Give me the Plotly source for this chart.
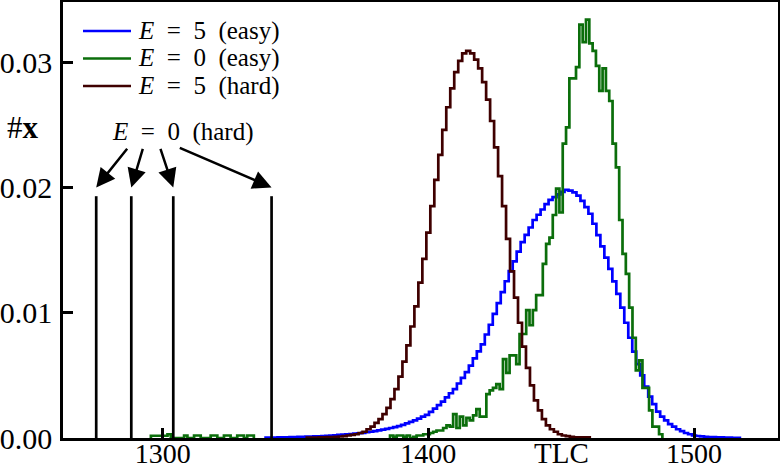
import numpy as np
import plotly.graph_objects as go

# ---- data ----
bin_w_fine = 1.5
blue_start = 1338.75
blue_values = [
    0.00003, 0.00004, 0.00004, 0.00005, 0.00006, 0.00006, 0.00007, 0.00008, 0.00009, 0.0001,
    0.00011, 0.00012, 0.00013, 0.00014, 0.00016, 0.00018, 0.0002, 0.00022, 0.00025, 0.00027,
    0.0003, 0.00032, 0.00035, 0.00038, 0.00041, 0.00046, 0.0005, 0.00055, 0.00061, 0.00067,
    0.00073, 0.0008, 0.00087, 0.00095, 0.00104, 0.00116, 0.00128, 0.0014, 0.00155, 0.0017,
    0.00185, 0.00208, 0.00235, 0.00262, 0.00291, 0.00324, 0.00357, 0.0039, 0.00435, 0.0048,
    0.00525, 0.00578, 0.00635, 0.00692, 0.00748, 0.00826, 0.00904, 0.0099, 0.01077, 0.01164,
    0.01251, 0.01332, 0.0141, 0.01488, 0.01564, 0.01622, 0.0168, 0.0174, 0.01782, 0.01824,
    0.01866, 0.0190, 0.01922, 0.01945, 0.01965, 0.0198, 0.01975, 0.0196, 0.01935, 0.01893,
    0.01843, 0.0179, 0.0171, 0.0162, 0.0153, 0.0144, 0.0135, 0.0125, 0.0115, 0.0104,
    0.0092, 0.0080, 0.0069, 0.0059, 0.0050, 0.0041, 0.0033, 0.0027, 0.0021, 0.0017,
    0.0014, 0.0011, 0.0009, 0.0007, 0.00055, 0.0004, 0.0003, 0.0002, 0.00016, 0.00013,
    0.0001, 0.00008, 0.00007, 0.00006, 0.00005, 0.00004, 0.00003, 0.00002, 0.00002,
]

darkred_start = 1354.25
darkred_values = [
    0.00003, 0.00003, 0.00004, 0.00005, 0.00006, 0.00007, 0.00008, 0.0001, 0.00012, 0.00015,
    0.0002, 0.00025, 0.0003, 0.0004, 0.0005, 0.0007, 0.0009, 0.0012, 0.0015, 0.0019,
    0.0024, 0.0031, 0.0039, 0.0049, 0.0061, 0.0074, 0.0089, 0.0105, 0.0124, 0.0143,
    0.0164, 0.0185, 0.0206, 0.0226, 0.0246, 0.0264, 0.0279, 0.0292, 0.0301, 0.0307,
    0.0309,
    0.0307, 0.0302, 0.0295, 0.0284, 0.0270, 0.0253, 0.0232, 0.0209, 0.0185, 0.0159,
    0.0133, 0.0112, 0.0092, 0.0073, 0.0056, 0.0042, 0.0030, 0.0022, 0.0015, 0.0010,
    0.0007, 0.0005, 0.0003, 0.0002, 0.00015, 0.0001, 0.00005, 0.00005, 0.00005, 0.00005,
]

bin_w_green = 1.25
green_low_start = 1295.58
green_low_values = [
    0.00018, 0.00018, 0.00018, 0.00018, 0.00018, 0.0003, 0.0, 0.0, 0.0, 0.0,
    0.0002, 0.0, 0.0, 0.0002, 0.0002, 0.0, 0.0, 0.0, 0.0002, 0.0002,
    0.0, 0.0, 0.0002, 0.0002, 0.0, 0.0, 0.0002, 0.0002, 0.0, 0.0002, 0.0002,
]
green_start = 1385.58
green_values = [
    0.0002, 0.0001, 0.0002,
    0.0002, 0.0001, 0.0002, 0.0, 0.0001, 0.0002, 0.0002, 0.0003, 0.0003, 0.0004,
    0.0005, 0.0006, 0.0006, 0.0008, 0.0010, 0.0009, 0.0019, 0.0008, 0.0017, 0.0010,
    0.0016, 0.0014, 0.0018, 0.0023, 0.0017, 0.0017, 0.0035, 0.0038, 0.0040, 0.0043,
    0.0039, 0.0063, 0.0052, 0.0066, 0.0066, 0.0059, 0.0083, 0.0083, 0.0102, 0.0090,
    0.0102, 0.0114, 0.0114, 0.0139, 0.0155, 0.0160, 0.0178, 0.0199, 0.0180, 0.0235,
    0.0248, 0.0287, 0.0287, 0.0296, 0.0330, 0.0316, 0.0334, 0.0315, 0.0309, 0.0297,
    0.0277, 0.0295, 0.0277, 0.0269, 0.0235, 0.0216, 0.0174, 0.0147, 0.0131, 0.0104,
    0.0080, 0.0054, 0.0062, 0.0040, 0.0040, 0.0022, 0.0009, 0.0009, 0.0003,
]

hard_x = [1275.0, 1288.2, 1304.0, 1341.0]
hard_y = [0.0193, 0.0193, 0.0193, 0.0193]

arrow_tail_x = [1287.1, 1292.7, 1299.0, 1305.9]
arrow_tail_y = 0.0232
arrow_head_y = 0.0200

x_ticks = [1300, 1400, 1500]
y_ticks = [0.0, 0.01, 0.02, 0.03]

SP = "\u2002"
labels = [f"<i>E</i>{SP}={SP}5{SP}(easy)", f"<i>E</i>{SP}={SP}0{SP}(easy)",
          f"<i>E</i>{SP}={SP}5{SP}(hard)", f"<i>E</i>{SP}={SP}0{SP}(hard)"]
colors = ["#0000ff", "#0b6e0b", "#3f0000", "#000000"]

SERIF = "Liberation Serif"

# plot-area geometry (pixels) used for paper-coordinate placement of the legend
W, H = 780, 471
ML, MR, MT, MB = 63, 2, 2, 33
PW, PH = W - ML - MR, H - MT - MB


def px_x(px):
    return (px - ML) / PW


def px_y(py):
    return (H - MB - py) / PH


def step_xy(start, width, values):
    n = len(values)
    edges = start + width * np.arange(n + 1)
    xs = [edges[0]] + list(edges[:n]) + [edges[n]]
    ys = [0.0] + list(values) + [0.0]
    return xs, ys


fig = go.Figure()

for (start, w, vals, lab, col) in [
    (blue_start, bin_w_fine, blue_values, labels[0], colors[0]),
    (green_low_start, bin_w_green, green_low_values, labels[1], colors[1]),
    (green_start, bin_w_green, green_values, labels[1], colors[1]),
    (darkred_start, bin_w_fine, darkred_values, labels[2], colors[2]),
]:
    xs, ys = step_xy(start, w, vals)
    fig.add_trace(go.Scatter(
        x=xs, y=ys, mode="lines", name=lab, showlegend=False,
        line=dict(color=col, width=2.7, shape="hv"), hoverinfo="skip",
    ))

# E = 0 (hard) spikes
sx, sy = [], []
for xv, yv in zip(hard_x, hard_y):
    sx += [xv, xv, None]
    sy += [0.0, yv, None]
fig.add_trace(go.Scatter(x=sx, y=sy, mode="lines", name=labels[3], showlegend=False,
                         line=dict(color=colors[3], width=2.7), hoverinfo="skip"))

annotations = [
    dict(x=1307.3, y=0.02444, xref="x", yref="y", text=labels[3], showarrow=False,
         font=dict(family=SERIF, size=25, color="black")),
    dict(x=1450.3, y=0, xref="x", yref="paper", text="TLC", showarrow=False,
         yanchor="top", yshift=3, font=dict(family=SERIF, size=29, color="black")),
    dict(x=px_x(5), y=0.0248, xref="paper", yref="y", text="#<b>x</b>", showarrow=False,
         xanchor="left", font=dict(family=SERIF, size=31, color="black")),
]
for tx, hx in zip(arrow_tail_x, hard_x):
    annotations.append(dict(
        x=hx, y=arrow_head_y, ax=tx, ay=arrow_tail_y, xref="x", yref="y",
        axref="x", ayref="y", text="", showarrow=True, arrowhead=2,
        arrowsize=1.5, arrowwidth=2.5, arrowcolor="black", standoff=0, startstandoff=0,
    ))

# legend drawn as line samples + text
shapes = []
legend_rows = [31, 58.5, 86]
for i, row in enumerate(legend_rows):
    shapes.append(dict(type="line", xref="paper", yref="paper",
                       x0=px_x(83), x1=px_x(131), y0=px_y(row), y1=px_y(row),
                       line=dict(color=colors[i], width=2.7)))
    annotations.append(dict(x=px_x(136), y=px_y(row), xref="paper", yref="paper",
                            text=labels[i], showarrow=False, xanchor="left", yanchor="middle",
                            font=dict(family=SERIF, size=25, color="black")))

fig.update_layout(
    width=W, height=H,
    margin=dict(l=ML, r=MR, t=MT, b=MB),
    paper_bgcolor="white", plot_bgcolor="white",
    showlegend=False,
    annotations=annotations,
    shapes=shapes,
)
fig.update_xaxes(range=[1262.5, 1531.6], tickvals=x_ticks, ticktext=[str(v) for v in x_ticks],
                 ticks="inside", ticklen=10, tickwidth=2.5, tickcolor="black",
                 showline=True, linecolor="black", linewidth=2.5, mirror=True,
                 showgrid=False, zeroline=False, ticklabelstandoff=-11, automargin=False,
                 tickfont=dict(family=SERIF, size=28, color="black"))
fig.update_yaxes(range=[0, 0.0348], tickvals=y_ticks, tickformat=".2f",
                 ticks="inside", ticklen=10, tickwidth=2.5, tickcolor="black",
                 showline=True, linecolor="black", linewidth=2.5, mirror=True,
                 showgrid=False, zeroline=False, ticklabelstandoff=2, automargin=False,
                 tickfont=dict(family=SERIF, size=30, color="black"))

fig.write_html("out.html")
